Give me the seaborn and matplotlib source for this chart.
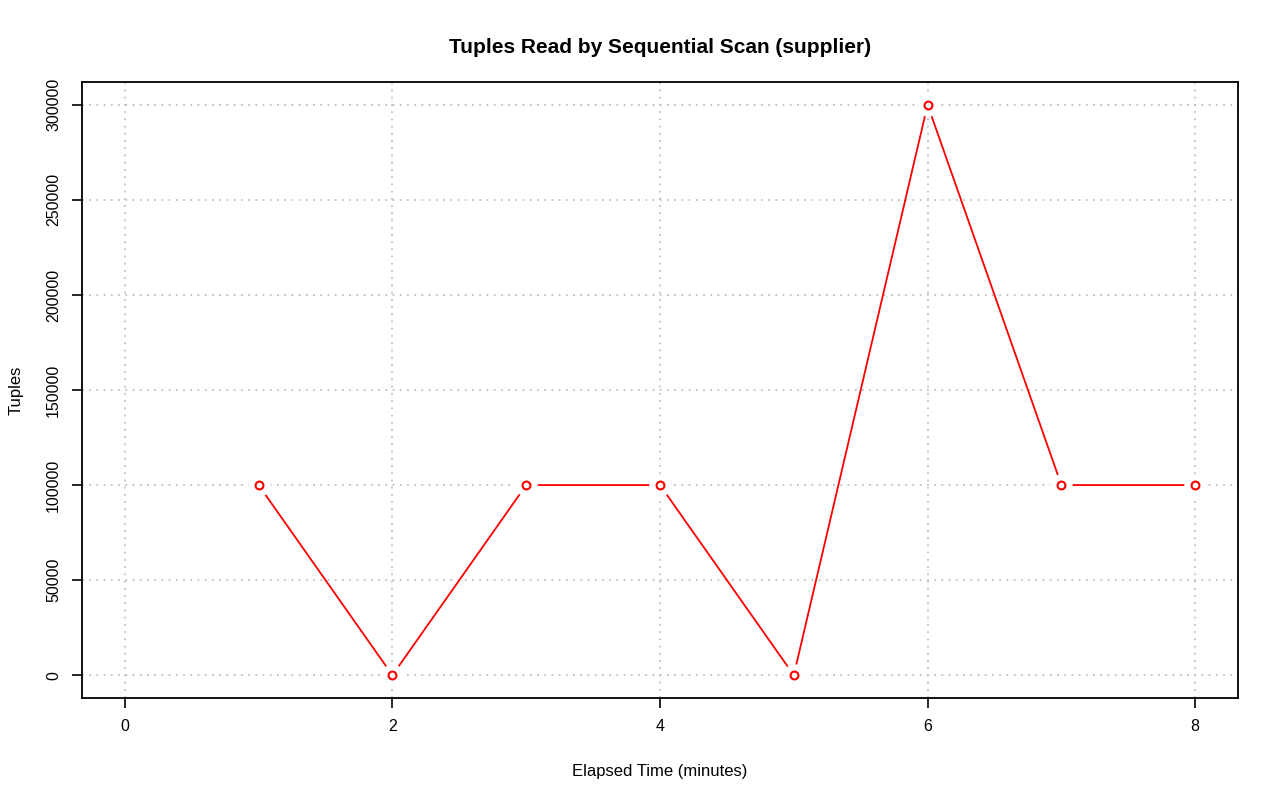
import numpy as np
import pandas as pd
import matplotlib
matplotlib.use("Agg")
import matplotlib.pyplot as plt
import seaborn as sns

# data
minutes = [1, 2, 3, 4, 5, 6, 7, 8]
tuples = [100000, 0, 100000, 100000, 0, 300000, 100000, 100000]
x_ticks = [0, 2, 4, 6, 8]
y_ticks = [0, 50000, 100000, 150000, 200000, 250000, 300000]

df = pd.DataFrame({"minutes": minutes, "tuples": tuples})

sns.set_style("white")
plt.rcParams['font.family'] = ['Liberation Sans', 'DejaVu Sans']
plt.rcParams['text.color'] = 'black'
plt.rcParams['axes.labelcolor'] = 'black'
plt.rcParams['xtick.color'] = 'black'
plt.rcParams['ytick.color'] = 'black'

fig = plt.figure(figsize=(12.8, 8.01), dpi=100)
ax = fig.add_axes([82 / 1280, 1 - 698 / 801, (1238 - 82) / 1280, (698 - 82) / 801])

# line, then white halo to cut gaps (R type="b"), then open circles
sns.lineplot(data=df, x="minutes", y="tuples", color="red", linewidth=1.3, ax=ax, zorder=3)
ax.scatter(df["minutes"], df["tuples"], s=260, color="white", zorder=4, linewidths=0)
ax.scatter(df["minutes"], df["tuples"], s=32, facecolor="white", edgecolor="red",
           linewidths=1.5, zorder=5)

ax.set_xlim(-0.32, 8.32)
ax.set_ylim(-12000, 312000)
ax.set_xticks(x_ticks)
ax.set_yticks(y_ticks)
ax.set_yticklabels([str(v) for v in y_ticks], rotation=90, va="center")
ax.tick_params(axis="both", direction="out", length=7, width=1.2, labelsize=11.5,
               pad=8, bottom=True, left=True, color="black", labelcolor="black")
ax.grid(True, color="#c0c0c0", linestyle=(0, (1, 3)), linewidth=1.3)
for s in ax.spines.values():
    s.set_color("black")
    s.set_linewidth(1.3)

ax.set_xlabel("Elapsed Time (minutes)", fontsize=12, labelpad=22, color="black")
ax.set_ylabel("Tuples", fontsize=12, labelpad=16, color="black")
ax.set_title("Tuples Read by Sequential Scan (supplier)", fontsize=15,
             fontweight="bold", pad=21, color="black")

fig.savefig("out.png", dpi=100)
